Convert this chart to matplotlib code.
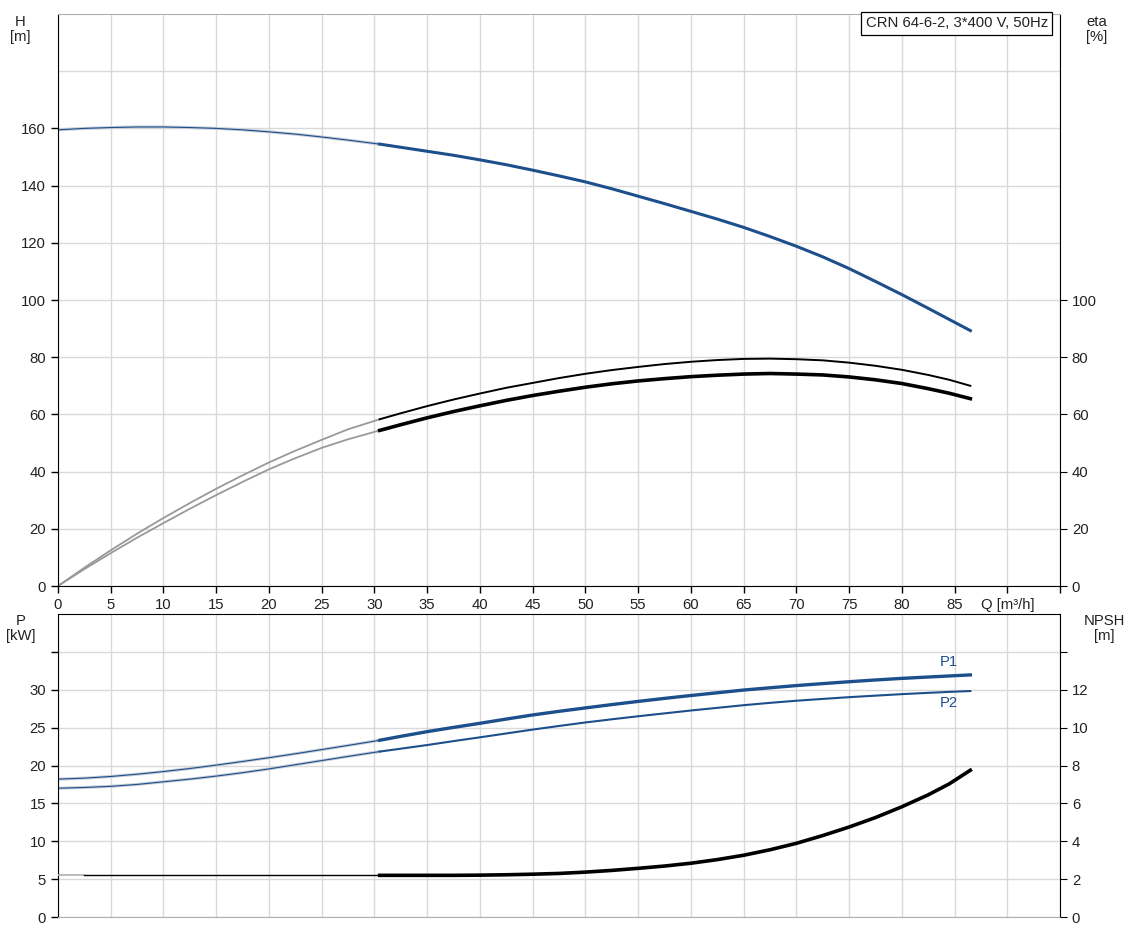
import numpy as np
import matplotlib
matplotlib.use('Agg')
import matplotlib.pyplot as plt

plt.rcParams['font.family'] = ['Liberation Sans', 'DejaVu Sans']
plt.rcParams['font.size'] = 10.7

# flow points, 30.5 is where the thin (low flow) part ends
Q = [0, 2.5, 5, 7.5, 10, 12.5, 15, 17.5, 20, 22.5, 25, 27.5, 30.5, 32.5, 35, 37.5,
     40, 42.5, 45, 47.5, 50, 52.5, 55, 57.5, 60, 62.5, 65, 67.5, 70, 72.5, 75,
     77.5, 80, 82.5, 84.5, 86.5]
H = [159.5, 160.0, 160.3, 160.5, 160.5, 160.3, 160.0, 159.5, 158.8, 158.0, 157.0,
     155.9, 154.5, 153.4, 152.0, 150.6, 149.0, 147.3, 145.4, 143.4, 141.3, 138.9,
     136.3, 133.7, 131.0, 128.3, 125.4, 122.2, 118.8, 115.1, 111.0, 106.5, 101.9,
     97.1, 93.2, 89.3]
eta_a = [0, 6.4, 12.5, 18.3, 23.8, 29.0, 34.0, 38.7, 43.2, 47.3, 51.1, 54.8, 58.3,
         60.4, 62.9, 65.2, 67.3, 69.3, 71.0, 72.7, 74.2, 75.5, 76.6, 77.6, 78.4,
         79.0, 79.4, 79.5, 79.3, 78.9, 78.1, 77.0, 75.6, 73.8, 72.1, 70.0]
eta_b = [0, 5.9, 11.5, 16.9, 22.0, 27.0, 31.8, 36.4, 40.8, 44.7, 48.3, 51.3, 54.4,
         56.4, 58.8, 61.0, 63.0, 64.9, 66.6, 68.1, 69.5, 70.7, 71.7, 72.5, 73.2,
         73.7, 74.1, 74.3, 74.1, 73.8, 73.1, 72.1, 70.8, 69.0, 67.4, 65.5]
P1 = [18.2, 18.33, 18.55, 18.85, 19.2, 19.6, 20.05, 20.53, 21.03, 21.55, 22.1, 22.65,
      23.33, 23.85, 24.47, 25.03, 25.57, 26.13, 26.67, 27.15, 27.6, 28.04, 28.46,
      28.86, 29.24, 29.6, 29.96, 30.26, 30.55, 30.81, 31.06, 31.29, 31.5, 31.68,
      31.82, 31.96]
P2 = [17.0, 17.1, 17.25, 17.5, 17.85, 18.2, 18.6, 19.05, 19.55, 20.1, 20.65, 21.2,
      21.84, 22.22, 22.7, 23.22, 23.72, 24.23, 24.74, 25.22, 25.68, 26.1, 26.5,
      26.88, 27.26, 27.61, 27.96, 28.27, 28.55, 28.79, 29.02, 29.22, 29.42, 29.59,
      29.72, 29.83]
NPSH = [2.2, 2.2, 2.2, 2.2, 2.2, 2.2, 2.2, 2.2, 2.2, 2.2, 2.2, 2.2, 2.2, 2.2, 2.2,
        2.2, 2.21, 2.23, 2.26, 2.3, 2.37, 2.46, 2.57, 2.69, 2.84, 3.03, 3.26, 3.55,
        3.89, 4.3, 4.75, 5.25, 5.82, 6.45, 7.03, 7.75]

x_ticks = [0, 5, 10, 15, 20, 25, 30, 35, 40, 45, 50, 55, 60, 65, 70, 75, 80, 85, 90, 95]
x_labels = ['0', '5', '10', '15', '20', '25', '30', '35', '40', '45', '50',
            '55', '60', '65', '70', '75', '80', '85', 'Q [m³/h]', '']
title = 'CRN 64-6-2, 3*400 V, 50Hz'

blue = '#1c4f8c'
grid_c = '#d9d9d9'
txt = '#222222'
k = Q.index(30.5) + 1   # low flow part is Q[:k], duty part is Q[k-1:]

fig = plt.figure(figsize=(11.28, 9.3), dpi=100)
ax1 = fig.add_axes([58/1128, 1-586/930, 1002/1128, 572/930])
ax2 = fig.add_axes([58/1128, 1-917/930, 1002/1128, 303/930])


def style(ax, yt, ylab):
    ax.set_xlim(0, 95)
    ax.set_xticks(x_ticks)
    ax.grid(True, color=grid_c, lw=1)
    ax.set_axisbelow(True)
    ax.set_yticks(yt)
    ax.set_yticklabels(ylab)
    ax.tick_params(direction='out', length=5, width=1, colors='black',
                   labelcolor=txt, labelsize=10.7)
    ax.spines['left'].set_color('black')
    ax.spines['right'].set_color('black')
    ax.spines['top'].set_color('#b0b0b0')
    ax.spines['bottom'].set_color('#b0b0b0')


# top panel: head and efficiency
style(ax1, list(range(0, 180, 20)), [str(v) for v in range(0, 180, 20)])
ax1.set_ylim(0, 200)
ax1.axhline(180, color=grid_c, lw=1, zorder=0)
ax1.set_xticklabels(x_labels)
ax1.spines['bottom'].set_color('black')

ax1.plot(Q[:k], H[:k], color='#c8ccd6', lw=2.2, solid_capstyle='butt')
ax1.plot(Q[:k], H[:k], color=blue, lw=0.8)
ax1.plot(Q[k-1:], H[k-1:], color=blue, lw=2.2)
ax1.plot(Q[:k], eta_a[:k], color='#999999', lw=1.3)
ax1.plot(Q[:k], eta_b[:k], color='#999999', lw=1.3)
ax1.plot(Q[k-1:], eta_a[k-1:], color='black', lw=1.4)
ax1.plot(Q[k-1:], eta_b[k-1:], color='black', lw=2.6)

ax1r = ax1.twinx()
ax1r.set_ylim(0, 200)
ax1r.set_yticks(list(range(0, 120, 20)))
ax1r.tick_params(direction='out', length=5, colors='black', labelcolor=txt, labelsize=10.7)
for s in ax1r.spines.values():
    s.set_visible(False)

ax1.text(0.806, 0.996, title, transform=ax1.transAxes, ha='left', va='top',
         fontsize=10.7, color=txt, zorder=5,
         bbox=dict(boxstyle='square,pad=0.3', fc='white', ec='black', lw=0.9))

# bottom panel: power and NPSH
style(ax2, list(range(0, 40, 5)), [str(v) for v in range(0, 35, 5)] + [''])
ax2.set_ylim(0, 40)
ax2.set_xticklabels([])
ax2.tick_params(axis='x', length=0)
ax2.spines['top'].set_color('black')

ax2.plot(Q[:k], P1[:k], color='#c8ccd6', lw=2.2)
ax2.plot(Q[:k], P1[:k], color=blue, lw=0.8)
ax2.plot(Q[:k], P2[:k], color='#c8ccd6', lw=2.2)
ax2.plot(Q[:k], P2[:k], color=blue, lw=0.8)
ax2.plot(Q[k-1:], P1[k-1:], color=blue, lw=2.4)
ax2.plot(Q[k-1:], P2[k-1:], color=blue, lw=1.5)
ax2.text(84.5, 32.7, 'P1', color=blue, fontsize=10.7, ha='center', va='bottom')
ax2.text(84.5, 29.2, 'P2', color=blue, fontsize=10.7, ha='center', va='top')

ax2r = ax2.twinx()
ax2r.set_ylim(0, 16)
ax2r.set_yticks(list(range(0, 16, 2)))
ax2r.set_yticklabels([str(v) for v in range(0, 14, 2)] + [''])
ax2r.tick_params(direction='out', length=5, colors='black', labelcolor=txt, labelsize=10.7)
for s in ax2r.spines.values():
    s.set_visible(False)
ax2r.plot(Q[:2], NPSH[:2], color='#b0b0b0', lw=1.2)
ax2r.plot(Q[1:k], NPSH[1:k], color='black', lw=1.0)
ax2r.plot(Q[k-1:], NPSH[k-1:], color='black', lw=2.6)

# axis titles
fig.text(20/1128, 1-15/930, 'H\n[m]', ha='center', va='top', color=txt, fontsize=10.7, linespacing=1.1)
fig.text(1097/1128, 1-15/930, 'eta\n[%]', ha='center', va='top', color=txt, fontsize=10.7, linespacing=1.1)
fig.text(21/1128, 1-614/930, 'P\n[kW]', ha='center', va='top', color=txt, fontsize=10.7, linespacing=1.1)
fig.text(1104/1128, 1-614/930, 'NPSH\n[m]', ha='center', va='top', color=txt, fontsize=10.7, linespacing=1.1)

fig.savefig('out.png', dpi=100, facecolor='white')
